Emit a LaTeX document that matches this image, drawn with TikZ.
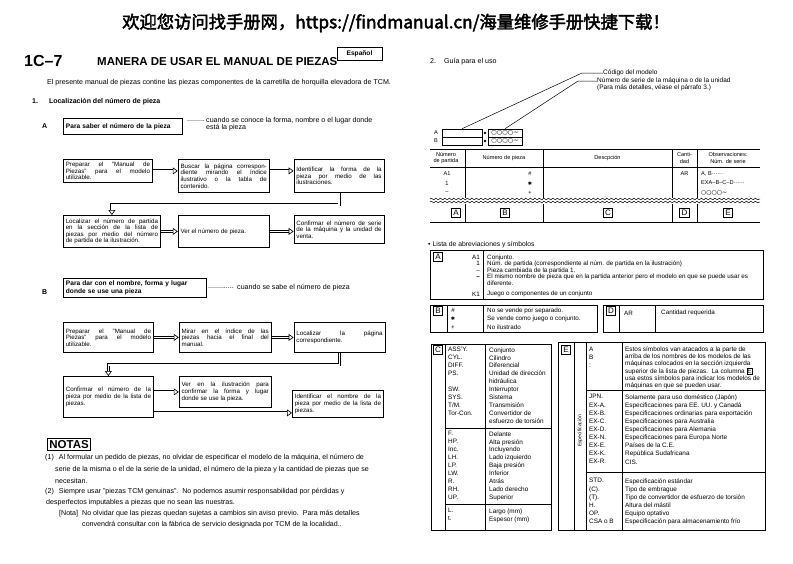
\documentclass[tikz,border=0pt]{standalone}
\usepackage{fontspec}
\setmainfont{Liberation Sans}
\newfontfamily\cjkfont{Noto Sans CJK SC}[AutoFakeBold=2.5]
\newfontfamily\dvsym{DejaVu Sans}
\usetikzlibrary{arrows.meta,positioning,decorations.pathmorphing}
\newcommand{\fsz}[2]{\fontsize{#1}{#2}\selectfont}
\newcommand{\boxE}{{\setlength{\fboxsep}{0.4pt}\setlength{\fboxrule}{0.5pt}\fbox{E}}}

\begin{document}
\begin{tikzpicture}[x=1pt,y=-1pt,
  box/.style={draw,line width=0.8pt,align=justify,inner sep=2.4pt,anchor=north west,font=\fsz{6.2}{6.6}},
  headbox/.style={draw,line width=0.9pt,align=left,inner sep=2.5pt,anchor=north west,font=\bfseries\fsz{6.6}{7.6}},
  darr/.style={double,double distance=1.7pt,line width=0.65pt,-{Triangle[open,length=5pt,width=7pt,line width=0.65pt]}},
  txt/.style={anchor=west,inner sep=0pt,font=\fsz{7.1}{8}},
  cell/.style={inner sep=0pt,font=\fsz{5.6}{6.2}},
  lst/.style={anchor=north west,align=left,inner sep=0pt,font=\fsz{6.4}{7.9}},
  tag/.style={draw,line width=0.6pt,minimum size=9.5pt,inner sep=0pt,font=\fsz{8}{8}},
  tline/.style={line width=0.7pt},
  wave/.style={decorate,decoration={snake,amplitude=0.9pt,segment length=4.5pt}}]
\path[use as bounding box,fill=white] (0,0) rectangle (793,563);

\node[font=\cjkfont\bfseries\fsz{17.3}{17.3}] (web) at (396,23) {欢迎您访问找手册网，https://findmanual.cn/海量维修手册快捷下载！};

% left page: heading
\node[anchor=west,inner sep=0pt,font=\bfseries\fsz{16}{16}] (pageno) at (24,61) {1C--7};
\node[anchor=west,inner sep=0pt,font=\bfseries\fsz{11.5}{11.5}] (title) at (97,62) {MANERA DE USAR EL MANUAL DE PIEZAS};
\node[draw,line width=0.7pt,font=\bfseries\fsz{6.6}{6.6},minimum width=45pt,minimum height=13pt,inner sep=1pt] (lang) at (359.5,53.5) {Español};
\node[txt] (intro) at (47,83) {El presente manual de piezas contine las piezas componentes de la carretilla de horquilla elevadora de TCM.};
\node[txt,font=\bfseries\fsz{7}{8}] (sec1) at (32,102) {1.\hspace{11pt}Localización del número de pieza};

% A
\node[txt,font=\bfseries\fsz{7}{8}] (labA) at (42,126) {A};
\node[headbox,text width=114pt,minimum height=16pt] (headA) at (63,118) {Para saber el número de la pieza};
\node[txt] (dotsA) at (187,121) {.........};
\node[anchor=north west,align=left,inner sep=0pt,font=\fsz{7.1}{7}] (whenA) at (206,117.5) {cuando se conoce la forma, nombre o el lugar donde\\está la pieza};

\node[box,text width=84.2pt,minimum height=23pt] (a1) at (63,159) {Preparar el "Manual de\linebreak Piezas" para el modelo\linebreak utilizable.};
\node[box,text width=86.2pt,minimum height=33pt,right=25pt of a1.north east,anchor=north west] (a2) {Buscar la página correspon-\linebreak diente mirando el índice\linebreak ilustrativo o la tabla de\linebreak contenido.};
\node[box,text width=85.2pt,minimum height=33pt,right=24pt of a2.north east,anchor=north west] (a3) {Identificar la forma de la\linebreak pieza por medio de las\linebreak ilustraciones.};
\node[box,text width=92.2pt,minimum height=32pt] (a4) at (63,215) {Localizar el número de partida\linebreak en la sección de la lista de\linebreak piezas por medio del número\linebreak de partida de la ilustración.};
\node[box,text width=86.2pt,minimum height=32pt,right=17pt of a4.north east,anchor=north west] (a5) {Ver el número de pieza.};
\node[box,text width=85.2pt,minimum height=28pt,right=24pt of a5.north east,anchor=north west] (a6) {Confirmar el número de serie\linebreak de la máquina y la unidad de\linebreak venta.};
\draw[darr] (a1.east) -- (a1.east -| a2.west);
\draw[darr] (a1.east -| a2.east) -- (a1.east -| a3.west);
\draw[darr] (a3.south) -- ++(0,12) -| (a4.north);
\draw[darr] (a4.east) -- (a4.east -| a5.west);
\draw[darr] (a5.east) -- (a5.east -| a6.west);

% B
\node[txt,font=\bfseries\fsz{7}{8}] (labB) at (42,292) {B};
\node[headbox,text width=138pt,minimum height=18pt] (headB) at (63,278) {Para dar con el nombre, forma y lugar\\donde se use una pieza};
\node[txt] (dotsB) at (208,288) {.............};
\node[txt,right=3pt of dotsB] (whenB) {cuando se sabe el número de pieza};

\node[box,text width=85.2pt,minimum height=30pt] (b1) at (63,322) {Preparar el "Manual de\linebreak Piezas" para el modelo\linebreak utilizable.};
\node[box,text width=87.2pt,minimum height=30pt,right=25pt of b1.north east,anchor=north west] (b2) {Mirar en el índice de las\linebreak piezas hacia el final del\linebreak manual.};
\node[box,text width=86.2pt,minimum height=30pt,right=22pt of b2.north east,anchor=north west] (b3) {Localizar la página\linebreak correspondiente.};
\node[box,text width=85.2pt,minimum height=41pt] (b4) at (63,376) {Confirmar el número de la\linebreak pieza por medio de la lista de\linebreak piezas.};
\node[box,text width=87.2pt,minimum height=31pt,right=25pt of b4.north east,anchor=north west] (b5) {Ver en la ilustración para\linebreak confirmar la forma y lugar\linebreak donde se use la pieza.};
\node[box,text width=86.2pt,minimum height=27pt] (b6) at (292,390) {Identificar el nombre de la\linebreak pieza por medio de la lista de\linebreak piezas.};
\draw[darr] (b1.east) -- (b1.east -| b2.west);
\draw[darr] (b2.east) -- (b2.east -| b3.west);
\draw[darr] (b3.south) -- ++(0,12) -| (b4.north);
\draw[darr] (b5.west -| b4.east) -- (b5.west);
\draw[darr] ([yshift=-9pt]b6.west -| b4.east) -- ([yshift=-9pt]b6.west);

% NOTAS
\node[draw,line width=0.8pt,font=\bfseries\fsz{11.5}{11.5},inner sep=2pt,anchor=north west] (notas) at (47,438) {NOTAS};
\node[txt] (n1) at (45,458) {(1)\hspace{5pt}Al formular un pedido de piezas, no olvidar de especificar el modelo de la máquina, el número de};
\node[txt] (n1b) at (55,470) {serie de la misma o el de la serie de la unidad, el número de la pieza y la cantidad de piezas que se};
\node[txt] (n1c) at (55,481) {necesitan.};
\node[txt] (n2) at (45,492) {(2)\hspace{5pt}Siempre usar "piezas TCM genuinas".\ \ No podemos asumir responsabilidad por pérdidas y};
\node[txt] (n2b) at (46,503) {desperfectos imputables a piezas que no sean las nuestras.};
\node[txt] (nota) at (59,514) {[Nota]};
\node[txt] (nt1) at (82,514) {No olvidar que las piezas quedan sujetas a cambios sin aviso previo.\ \ Para más detalles};
\node[txt] (nt2) at (82,525) {convendrá consultar con la fábrica de servicio designada por TCM de la localidad..};

% right page: guide
\node[txt] (sec2) at (430,62) {2.\hspace{8pt}Guía para el uso};
\node[txt,font=\fsz{6.5}{7}] (codigo) at (603,73) {Código del modelo};
\node[txt,font=\fsz{6.5}{7}] (serie1) at (597,81) {Número de serie de la máquina o de la unidad};
\node[txt,font=\fsz{6.5}{7}] (serie2) at (597,87.5) {(Para más detalles, véase el párrafo 3.)};
\node[cell] (mA) at (436,133) {A};
\node[cell] (mB) at (436,141) {B};
\node[draw,line width=0.5pt,minimum width=40pt,minimum height=8pt,inner sep=0pt] (boxA) at (462,133) {};
\node[draw,line width=0.5pt,minimum width=40pt,minimum height=8pt,inner sep=0pt] (boxB) at (462,141) {};
\node[circle,fill,inner sep=1pt] (dotA) at (485,133) {};
\node[circle,fill,inner sep=1pt] (dotB) at (485,141) {};
\node[draw,line width=0.5pt,minimum width=34pt,minimum height=8pt,inner sep=0.3pt,font=\dvsym\fsz{6.3}{6.3}] (serA) at (505,133) {○○○○∼};
\node[draw,line width=0.5pt,minimum width=34pt,minimum height=8pt,inner sep=0.3pt,font=\dvsym\fsz{6.3}{6.3}] (serB) at (505,141) {○○○○∼};
\draw[line width=0.5pt] (boxA.north) -- ([xshift=-21pt]codigo.west) -- (codigo.west);
\draw[line width=0.5pt] (serA.north) -- ([xshift=-19pt]serie1.west) -- (serie1.west);

% table
\draw[tline,line width=0.9pt] (430,149) -- (760,149);
\draw[line width=0.5pt] (430,167) -- (760,167);
\draw[line width=0.5pt] (465,149) -- (465,198) (543,149) -- (543,198) (672,149) -- (672,198) (697,149) -- (697,198)
  (465,204) -- (465,222) (543,204) -- (543,222) (672,204) -- (672,222) (697,204) -- (697,222);
\draw[line width=0.5pt,wave] (430,199) -- (760,199);
\draw[line width=0.5pt,wave] (430,202) -- (760,202);
\draw[tline,line width=0.9pt] (430,222) -- (760,222);
\node[cell,align=center] (hpart) at (446,158) {Número\\de partida};
\node[cell] (hpieza) at (504,158) {Número de pieza};
\node[cell] (hdesc) at (607.5,158) {Descpción};
\node[cell,align=center] (hcant) at (684.5,158) {Canti-\\dad};
\node[cell,align=center] (hobs) at (728,158) {Observaciones:\\Núm. de serie};
\node[cell] (pA1) at (447,174) {A1};
\node[cell] (p1) at (447,184) {1};
\node[cell] (pdash) at (447,193) {--};
\node[cell] (sharp) at (530,174) {\#};
\node[cell,font=\dvsym\fsz{5}{5}] (star) at (530,184) {✱};
\node[cell] (plus) at (530,193) {+};
\node[cell] (qAR) at (684.5,174) {AR};
\node[cell,anchor=west] (o1) at (701,174) {A, B······};
\node[cell,anchor=west] (o2) at (701,183) {EXA--B--C--D······};
\node[cell,anchor=west,font=\dvsym\fsz{6}{6}] (o3) at (701,192.5) {○○○○∼};
\node[tag] (tA) at (456,213) {A};
\node[tag] (tB) at (505,213) {B};
\node[tag] (tC) at (608,213) {C};
\node[tag] (tD) at (684.5,213) {D};
\node[tag] (tE) at (728,213) {E};

% list of abbreviations
\node[txt,font=\fsz{6.8}{8}] (lista) at (428,245) {•\hspace{2pt}Lista de abreviaciones y símbolos};
\draw[tline] (430,250) rectangle (763,299);
\draw[line width=0.5pt] (483,250) -- (483,299);
\node[tag] (lA) at (438,257) {A};
\node[anchor=north east,align=right,inner sep=0pt,font=\fsz{6.3}{6.5}] (akeys) at (480,254.5) {A1\\1\\--\\\textbf{--}};
\node[anchor=east,inner sep=0pt,font=\fsz{6.3}{6.5}] (akeyK) at (480,294) {K1};
\node[lst,font=\fsz{6.3}{6.5}] (atext) at (487,254.5) {Conjunto.\\Núm. de partida (correspondiente al núm. de partida en la ilustración)\\Pieza cambiada de la partida 1.\\El mismo nombre de pieza que en la partida anterior pero el modelo en que se puede usar es\\diferente.};
\node[anchor=west,inner sep=0pt,font=\fsz{6.3}{6.5}] (atextK) at (487,294) {Juego o componentes de un conjunto};

\draw[tline] (430,305) rectangle (597,332);
\draw[line width=0.5pt] (447,305) -- (447,332) (483,305) -- (483,332);
\node[tag] (lB) at (438,311) {B};
\node[anchor=north,align=center,inner sep=0pt,font=\fsz{6.3}{8.5}] (bkeys) at (453,307.5) {\#\\{\dvsym\fsz{5}{5}✱}\\+};
\node[lst,font=\fsz{6.3}{8.5}] (btext) at (487,307.5) {No se vende por separado.\\Se vende como juego o conjunto.\\No ilustrado};

\draw[tline] (603,305) rectangle (763,332);
\draw[line width=0.5pt] (619,305) -- (619,332) (655,305) -- (655,332);
\node[tag] (lD) at (611,311) {D};
\node[anchor=west,inner sep=0pt,font=\fsz{6.3}{7}] (dkey) at (624,313) {AR};
\node[anchor=west,inner sep=0pt,font=\fsz{6.3}{7}] (dtext) at (661,313) {Cantidad requerida};

% C
\draw[tline] (431,344) rectangle (551,530);
\draw[line width=0.5pt] (445,344) -- (445,530) (485,344) -- (485,530) (445,428) -- (551,428) (445,504) -- (551,504);
\node[tag] (lC) at (438,350) {C};
\node[lst] (ckeys1) at (448,347.3) {ASS'Y.\\CYL.\\DIFF.\\PS.\\\mbox{}\\SW.\\SYS.\\T/M.\\Tor-Con.};
\node[lst] (ctext1) at (489,347.3) {Conjunto\\Cilindro\\Diferencial\\Unidad de dirección\\hidráulica\\Interruptor\\Sistema\\Transmisión\\Convertidor de\\esfuerzo de torsión};
\node[lst] (ckeys2) at (448,431.3) {F.\\HP.\\Inc.\\LH.\\LP.\\LW.\\R.\\RH.\\UP.};
\node[lst] (ctext2) at (489,431.3) {Delante\\Alta presión\\Incluyendo\\Lado izquierdo\\Baja presión\\Inferior\\Atrás\\Lado derecho\\Superior};
\node[lst] (ckeys3) at (448,508.3) {L.\\t.};
\node[lst] (ctext3) at (489,508.3) {Largo (mm)\\Espesor (mm)};

% E
\draw[tline] (558,342) rectangle (765,530);
\draw[line width=0.5pt] (574,342) -- (574,530) (586,342) -- (586,530) (622,342) -- (622,530) (586,390) -- (765,390) (586,472) -- (765,472);
\node[tag] (lE) at (566,350) {E};
\node[lst,font=\fsz{6.4}{8}] (ekeys1) at (589,347.3) {A\\B\\:};
\node[lst,font=\fsz{6.4}{7.3}] (etext1) at (625,346.3) {Estos símbolos van atacados a la parte de\\arriba de los nombres de los modelos de las\\máquinas colocados en la sección izquierda\\superior de la lista de piezas.\ \ La columna \boxE\\usa estos símbolos para indicar los modelos de\\máquinas en que se pueden usar.};
\node[lst,font=\fsz{6.4}{8.1}] (ekeys2) at (589,394.3) {JPN.\\EX-A.\\EX-B.\\EX-C.\\EX-D.\\EX-N.\\EX-E.\\EX-K.\\EX-R.};
\node[lst,font=\fsz{6.4}{8.1}] (etext2) at (625,394.3) {Solamente para uso doméstico (Japón)\\Especificaciones para EE. UU. y Canadá\\Especificaciones ordinarias para exportación\\Especificaciones para Australia\\Especificaciones para Alemania\\Especificaciones para Europa Norte\\Países de la C.E.\\República Sudafricana\\CIS.};
\node[lst,font=\fsz{6.4}{8.1}] (ekeys3) at (589,478.3) {STD.\\(C).\\(T).\\H.\\OP.\\CSA o B};
\node[lst,font=\fsz{6.4}{8.1}] (etext3) at (625,478.3) {Especificación estándar\\Tipo de embrague\\Tipo de convertidor de esfuerzo de torsión\\Altura del mástil\\Equipo optativo\\Especificación para almacenamiento frío};
\node[rotate=90,inner sep=0pt,font=\fsz{5}{5}] (espec) at (580,431) {Especificación};
\end{tikzpicture}
\end{document}
